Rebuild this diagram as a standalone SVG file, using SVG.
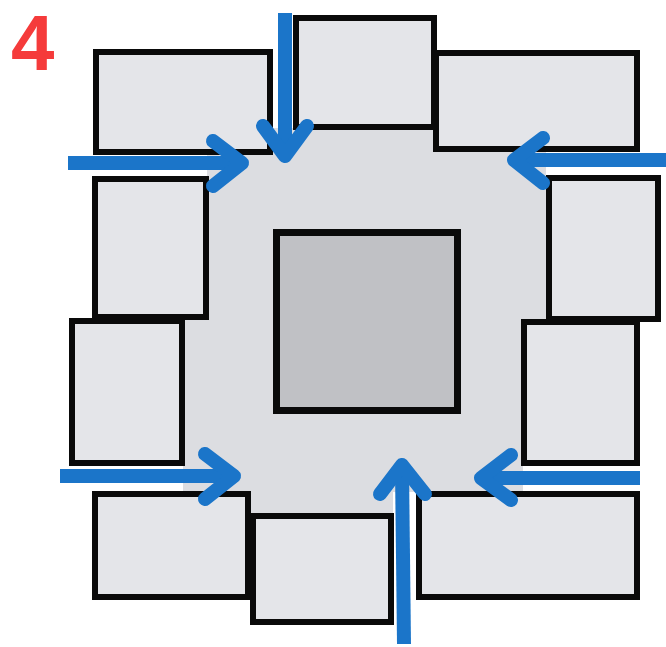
<svg xmlns="http://www.w3.org/2000/svg" width="666" height="647" viewBox="0 0 666 647">
  <style>
    .room { fill: #e4e5e9; stroke: #0a0a0a; stroke-width: 6; stroke-linejoin: miter; }
    .core { fill: #c0c1c5; stroke: #0a0a0a; stroke-width: 7; }
    .hall { fill: #dcdde1; }
    .shaft { fill: none; stroke: #1b75c9; stroke-width: 14; stroke-linecap: butt; }
    .head { fill: none; stroke: #1b75c9; stroke-width: 14; stroke-linecap: round; stroke-linejoin: round; }
    .label { font-family: "Liberation Sans", Arial, sans-serif; font-weight: bold; font-size: 78px; fill: #f53b3b; }
  </style>
  <rect width="666" height="647" fill="#ffffff"/>

  <text class="label" x="11" y="70">4</text>

  <!-- central hall -->
  <g id="hall">
    <polygon class="hall" points="207,155 273,155 273,128 436,128 436,150 546,150 546,322 523,322 523,492 393,492 393,514 250,514 250,492 183,492 183,319 207,319"/>
  </g>

  <!-- surrounding rooms -->
  <g id="room-top-left"><rect class="room" x="96" y="52" width="174" height="100"/></g>
  <g id="room-top-center"><rect class="room" x="296" y="18" width="138" height="109"/></g>
  <g id="room-top-right"><rect class="room" x="436" y="53" width="201" height="96"/></g>
  <g id="room-right-upper"><rect class="room" x="549" y="178" width="109" height="141"/></g>
  <g id="room-right-middle"><rect class="room" x="524" y="322" width="113" height="141"/></g>
  <g id="room-bottom-right"><rect class="room" x="419" y="494" width="218" height="103"/></g>
  <g id="room-bottom-center"><rect class="room" x="253" y="516" width="138" height="106"/></g>
  <g id="room-bottom-left"><rect class="room" x="95" y="494" width="153" height="103"/></g>
  <g id="room-left-middle"><rect class="room" x="72" y="321" width="110" height="142"/></g>
  <g id="room-left-upper"><rect class="room" x="95" y="179" width="111" height="138"/></g>

  <!-- inner core -->
  <g id="core"><rect class="core" x="276.5" y="232.5" width="181" height="178"/></g>

  <!-- inward flow arrows -->
  <g id="arrows">
    <line class="shaft" x1="68" y1="163" x2="240" y2="163"/>
    <polyline class="head" points="213,141 242,163 213,186"/>

    <line class="shaft" x1="285" y1="13" x2="285" y2="153"/>
    <polyline class="head" points="263,126 285,156 307,126"/>

    <line class="shaft" x1="666" y1="160" x2="518" y2="160"/>
    <polyline class="head" points="543,138 514,160 543,183"/>

    <line class="shaft" x1="60" y1="476" x2="232" y2="476"/>
    <polyline class="head" points="205,454 234,476 205,499"/>

    <line class="shaft" x1="404" y1="644" x2="402" y2="468"/>
    <polyline class="head" points="380,494 402,465 425,494"/>

    <line class="shaft" x1="640" y1="478" x2="485" y2="478"/>
    <polyline class="head" points="511,455 481,478 511,500"/>
  </g>
</svg>
